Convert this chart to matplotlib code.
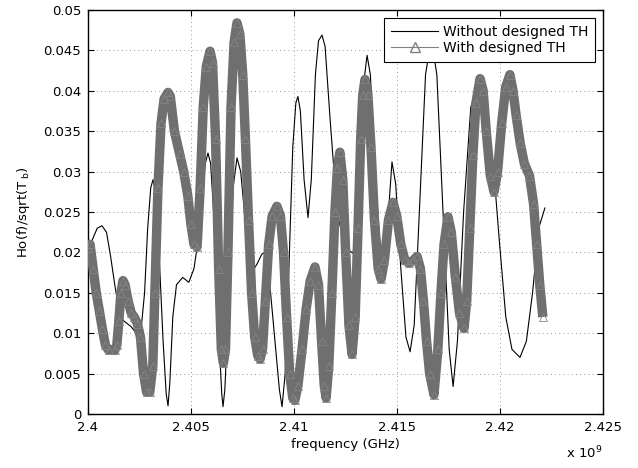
"""Ho(f)/sqrt(Tb) versus frequency, with and without the designed TH."""

import numpy as np
import matplotlib
matplotlib.use("Agg")
import matplotlib.pyplot as plt
from matplotlib.ticker import FuncFormatter, MultipleLocator

# frequency in GHz, response values
f_without = [
    2.40000, 2.40020, 2.40045, 2.40068, 2.40090, 2.40110, 2.40130, 2.40150,
    2.40170, 2.40190, 2.40210, 2.40240, 2.40260, 2.40275, 2.40290, 2.40305,
    2.40316, 2.40328, 2.40345, 2.40365, 2.40380, 2.40389, 2.40398, 2.40412,
    2.40430, 2.40460, 2.40490, 2.40515, 2.40535, 2.40555, 2.40570, 2.40583,
    2.40596, 2.40615, 2.40635, 2.40650, 2.40656, 2.40665, 2.40685, 2.40705,
    2.40724, 2.40742, 2.40760, 2.40780, 2.40797, 2.40820, 2.40845, 2.40860,
    2.40880, 2.40905, 2.40930, 2.40943, 2.40958, 2.40975, 2.40995, 2.41010,
    2.41020, 2.41032, 2.41050, 2.41069, 2.41085, 2.41105, 2.41120, 2.41137,
    2.41152, 2.41175, 2.41210, 2.41250, 2.41288, 2.41315, 2.41340, 2.41356,
    2.41372, 2.41395, 2.41420, 2.41440, 2.41460, 2.41477, 2.41495, 2.41520,
    2.41545, 2.41565, 2.41585, 2.41610, 2.41640, 2.41668, 2.41695, 2.41725,
    2.41755, 2.41774, 2.41795, 2.41825, 2.41860, 2.41900, 2.41940, 2.41975,
    2.42000, 2.42030, 2.42060, 2.42099, 2.42130, 2.42160, 2.42190, 2.42220,
]
h_without = [
    0.0195, 0.0215, 0.0230, 0.0233, 0.0225, 0.0195, 0.0160, 0.0130,
    0.0116, 0.0112, 0.0108, 0.0098, 0.0110, 0.0150, 0.0230, 0.0280,
    0.0290, 0.0275, 0.0200, 0.0090, 0.0025, 0.0010, 0.0040, 0.0120,
    0.0160, 0.0169, 0.0163, 0.0180, 0.0215, 0.0275, 0.0310, 0.0323,
    0.0310, 0.0230, 0.0100, 0.0025, 0.0009, 0.0030, 0.0150, 0.0280,
    0.0317, 0.0300, 0.0250, 0.0195, 0.0176, 0.0185, 0.0198, 0.0200,
    0.0170, 0.0100, 0.0030, 0.0009, 0.0050, 0.0170, 0.0330, 0.0385,
    0.0393, 0.0375, 0.0290, 0.0243, 0.0290, 0.0420, 0.0462, 0.0469,
    0.0455, 0.0370, 0.0250, 0.0205, 0.0199, 0.0260, 0.0410, 0.0444,
    0.0420, 0.0300, 0.0205, 0.0190, 0.0250, 0.0312, 0.0285, 0.0180,
    0.0095, 0.0077, 0.0110, 0.0250, 0.0420, 0.0465, 0.0420, 0.0250,
    0.0080, 0.0034, 0.0090, 0.0250, 0.0380, 0.0410, 0.0370, 0.0290,
    0.0210, 0.0120, 0.0080, 0.0070, 0.0090, 0.0150, 0.0230, 0.0255,
]

f_with = [
    2.40000, 2.40010, 2.40025, 2.40040, 2.40055, 2.40070, 2.40085, 2.40100,
    2.40130, 2.40140, 2.40150, 2.40160, 2.40170, 2.40180, 2.40195, 2.40210,
    2.40225, 2.40240, 2.40255, 2.40270, 2.40285, 2.40300, 2.40315, 2.40325,
    2.40340, 2.40355, 2.40370, 2.40389, 2.40400, 2.40420, 2.40445, 2.40465,
    2.40485, 2.40500, 2.40515, 2.40530, 2.40545, 2.40560, 2.40575, 2.40593,
    2.40605, 2.40620, 2.40635, 2.40648, 2.40658, 2.40668, 2.40680, 2.40695,
    2.40710, 2.40724, 2.40738, 2.40752, 2.40765, 2.40780, 2.40795, 2.40810,
    2.40825, 2.40836, 2.40848, 2.40862, 2.40878, 2.40895, 2.40918, 2.40935,
    2.40950, 2.40965, 2.40980, 2.40995, 2.41005, 2.41020, 2.41040, 2.41060,
    2.41080, 2.41103, 2.41120, 2.41135, 2.41148, 2.41157, 2.41170, 2.41185,
    2.41200, 2.41212, 2.41224, 2.41238, 2.41252, 2.41268, 2.41283, 2.41298,
    2.41312, 2.41325, 2.41335, 2.41346, 2.41360, 2.41375, 2.41392, 2.41410,
    2.41424, 2.41440, 2.41460, 2.41482, 2.41500, 2.41520, 2.41540, 2.41560,
    2.41580, 2.41599, 2.41615, 2.41630, 2.41645, 2.41660, 2.41681, 2.41700,
    2.41715, 2.41730, 2.41749, 2.41765, 2.41785, 2.41805, 2.41827, 2.41840,
    2.41855, 2.41870, 2.41885, 2.41905, 2.41920, 2.41935, 2.41955, 2.41973,
    2.41990, 2.42010, 2.42030, 2.42050, 2.42065, 2.42080, 2.42100, 2.42120,
    2.42145, 2.42165, 2.42180, 2.42195, 2.42210,
]
h_with = [
    0.0205, 0.0210, 0.0180, 0.0150, 0.0128, 0.0105, 0.0085, 0.0079,
    0.0079, 0.0085, 0.0115, 0.0150, 0.0165, 0.0160, 0.0140, 0.0125,
    0.0120, 0.0112, 0.0095, 0.0050, 0.0027, 0.0027, 0.0060, 0.0150,
    0.0280, 0.0360, 0.0390, 0.0398, 0.0393, 0.0350, 0.0322, 0.0300,
    0.0270, 0.0235, 0.0210, 0.0207, 0.0280, 0.0380, 0.0430, 0.0449,
    0.0435, 0.0340, 0.0180, 0.0080, 0.0063, 0.0080, 0.0200, 0.0380,
    0.0460, 0.0484, 0.0470, 0.0420, 0.0340, 0.0240, 0.0150, 0.0095,
    0.0072, 0.0068, 0.0080, 0.0140, 0.0210, 0.0245, 0.0257, 0.0245,
    0.0200, 0.0120, 0.0050, 0.0020, 0.0017, 0.0035, 0.0080, 0.0130,
    0.0165, 0.0182, 0.0160, 0.0090, 0.0035, 0.0020, 0.0060, 0.0150,
    0.0250, 0.0305, 0.0324, 0.0290, 0.0200, 0.0110, 0.0074, 0.0120,
    0.0230, 0.0340, 0.0395, 0.0414, 0.0395, 0.0330, 0.0240, 0.0180,
    0.0167, 0.0190, 0.0240, 0.0262, 0.0245, 0.0210, 0.0190, 0.0187,
    0.0190, 0.0195, 0.0180, 0.0140, 0.0090, 0.0050, 0.0024, 0.0080,
    0.0150, 0.0210, 0.0244, 0.0225, 0.0170, 0.0125, 0.0106, 0.0140,
    0.0230, 0.0320, 0.0385, 0.0415, 0.0400, 0.0350, 0.0295, 0.0275,
    0.0300, 0.0360, 0.0405, 0.0420, 0.0400, 0.0370, 0.0335, 0.0310,
    0.0295, 0.0260, 0.0210, 0.0160, 0.0120,
]

x_ticks = [2.400, 2.405, 2.410, 2.415, 2.420, 2.425]

GRAY = "#6f6f6f"

plt.rcParams["font.family"] = "DejaVu Sans"
plt.rcParams["font.size"] = 9.5

fig = plt.figure(figsize=(6.38, 4.68), dpi=100)
ax = fig.add_axes([0.1379, 0.1154, 0.8065, 0.8632])

hz_without = np.array(f_without) * 1e9
hz_with = np.array(f_with) * 1e9

ax.plot(hz_without, h_without, color="black", lw=0.8, zorder=2)
ax.plot(hz_with, h_with, color=GRAY, lw=6.8, solid_joinstyle="round",
        solid_capstyle="butt", zorder=3)
ax.plot(hz_with, h_with, ls="none", marker="^", ms=6, mfc="none",
        mec="#858585", mew=0.6, zorder=4)

# legend handles
h1, = ax.plot([], [], color="black", lw=0.8, label="Without designed TH")
h2, = ax.plot([], [], color="#808080", lw=0.8, marker="^", ms=7, mfc="none",
              mec="#808080", label="With designed TH")
leg = ax.legend(handles=[h1, h2], loc="upper right", fontsize=10,
                frameon=True, fancybox=False, edgecolor="black",
                framealpha=1.0, borderaxespad=0.55, handlelength=3.4,
                borderpad=0.5, labelspacing=0.15, handletextpad=0.3)
leg.get_frame().set_linewidth(0.8)
leg.set_zorder(10)

ax.set_xlim(2.4e9, 2.425e9)
ax.set_ylim(0, 0.05)
ax.set_xticks([t * 1e9 for t in x_ticks])
ax.xaxis.set_major_formatter(FuncFormatter(lambda v, p: f"{v / 1e9:g}"))
ax.yaxis.set_major_locator(MultipleLocator(0.005))
ax.yaxis.set_major_formatter(FuncFormatter(lambda v, p: f"{v:g}"))

ax.grid(True, color="#7a7a7a", lw=0.6, ls=(0, (1, 4)))
ax.tick_params(direction="in", top=True, right=True, length=4, width=0.8,
               labelsize=9.5, pad=5)
for sp in ax.spines.values():
    sp.set_linewidth(1.0)

ax.set_xlabel("frequency (GHz)", fontsize=9.5, labelpad=3)
ax.set_ylabel(r"Ho(f)/sqrt(T$\,_\mathregular{b}$)", fontsize=9.5, labelpad=8)

fig.text(0.887, 0.021, r"x 10$^\mathregular{9}$", fontsize=9.5)

fig.savefig("out.png", dpi=100)
